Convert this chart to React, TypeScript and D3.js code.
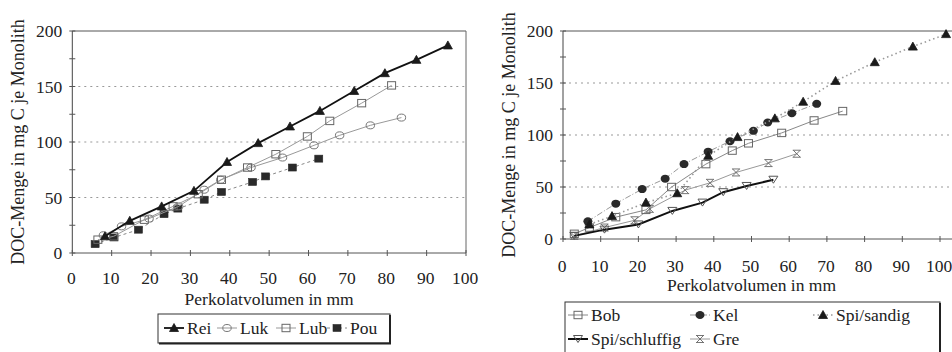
import React from "react";
import * as d3 from "d3";

// ---------- data ----------
const xTicks = [0, 10, 20, 30, 40, 50, 60, 70, 80, 90, 100];
const yTicks = [0, 50, 100, 150, 200];
const yMinorTicks = [25, 75, 125, 175];
const xLabel = "Perkolatvolumen in mm";
const yLabel = "DOC-Menge in mg C je Monolith";

// left panel
const rei: [number, number][] = [
  [8.3, 15], [14.6, 29], [22.7, 42], [30.9, 56], [39.3, 82], [47.2, 99],
  [55.3, 114], [62.9, 128], [71.6, 146], [79.4, 162], [87.4, 174], [95.4, 187],
];
const luk: [number, number][] = [
  [7.9, 16], [12.5, 24], [19.5, 31], [27, 42], [33.5, 57], [37.7, 66],
  [45.4, 77], [53.4, 86], [61.4, 97], [67.9, 106], [75.7, 115], [83.6, 122],
];
const lub: [number, number][] = [
  [6.5, 12], [10.5, 15], [18.3, 30], [25.6, 42], [32, 53], [37.9, 66],
  [44.5, 77], [51.7, 89], [59.7, 105], [65.4, 119], [73.5, 135], [81.1, 151],
];
const pou: [number, number][] = [
  [5.8, 8], [10.6, 14], [16.8, 21], [23.3, 35], [26.8, 40], [33.5, 48],
  [37.9, 55], [45.8, 64], [49.1, 69], [55.9, 77], [62.6, 85],
];

// right panel
const bob: [number, number][] = [
  [3, 5], [7, 11], [14, 21], [22, 28], [28.8, 50], [37.9, 72], [44.9, 85],
  [49.2, 92], [58, 102], [66.6, 114], [74.2, 123],
];
const kel: [number, number][] = [
  [6.6, 17], [14, 34], [21, 48], [27.1, 58], [32.1, 72], [38.5, 84],
  [44.3, 94], [50.5, 104], [54.3, 112], [60.7, 121], [67.3, 130],
];
const spiSandig: [number, number][] = [
  [7, 14], [13, 22], [22, 35], [30.3, 44], [38.5, 80], [46.3, 98],
  [56.2, 116], [63.7, 132], [72.3, 152], [82.7, 170], [92.8, 185], [101.6, 197],
];
const spiSchluffig: [number, number][] = [
  [3, 3], [11, 9], [20, 14], [29, 27], [37, 35], [42.5, 45], [48.7, 51], [55.8, 57],
];
const gre: [number, number][] = [
  [3, 3], [11, 11], [19, 18], [23, 29], [32.4, 47], [39, 54], [45.9, 64],
  [54.5, 73], [62, 82],
];

const FONT = "Liberation Serif, DejaVu Serif, Times New Roman, serif";
const textStyle: React.CSSProperties = { fontFamily: FONT, fontSize: "17.5px" };

type MarkerType =
  | "triUp"
  | "circleOpen"
  | "squareOpen"
  | "squareFilled"
  | "circleFilled"
  | "triDownOpen"
  | "gre";

function Marker({ type, x, y }: { type: MarkerType; x: number; y: number }) {
  switch (type) {
    case "triUp":
      return <path d={`M${x},${y - 4.5}L${x + 4.5},${y + 3.5}L${x - 4.5},${y + 3.5}Z`} fill="#1a1a1a" stroke="#1a1a1a" strokeWidth={0.8} />;
    case "circleOpen":
      return <ellipse cx={x} cy={y} rx={4.2} ry={3.5} fill="none" stroke="#777" strokeWidth={1} />;
    case "squareOpen":
      return <rect x={x - 4} y={y - 3.7} width={8} height={7.4} fill="none" stroke="#666" strokeWidth={1} />;
    case "squareFilled":
      return <rect x={x - 4} y={y - 3.5} width={8} height={7} fill="#2a2a2a" stroke="#2a2a2a" strokeWidth={0.6} />;
    case "circleFilled":
      return <ellipse cx={x} cy={y} rx={4.5} ry={4} fill="#2a2a2a" />;
    case "triDownOpen":
      return <path d={`M${x - 4.5},${y - 3.5}L${x + 4.5},${y - 3.5}L${x},${y + 3.5}Z`} fill="none" stroke="#555" strokeWidth={1} />;
    case "gre":
      return (
        <path
          d={`M${x - 3.5},${y - 3.5}L${x + 3.5},${y + 3.5}M${x + 3.5},${y - 3.5}L${x - 3.5},${y + 3.5}M${x - 4},${y - 3.5}L${x + 4},${y - 3.5}M${x - 4},${y + 3.5}L${x + 4},${y + 3.5}`}
          fill="none"
          stroke="#666"
          strokeWidth={0.9}
        />
      );
  }
  return null;
}

type Series = {
  name: string;
  data: [number, number][];
  stroke: string;
  width: number;
  dash?: string;
  marker: MarkerType;
};

const leftSeries: Series[] = [
  { name: "Pou", data: pou, stroke: "#888", width: 1, dash: "3,3", marker: "squareFilled" },
  { name: "Luk", data: luk, stroke: "#999", width: 1, marker: "circleOpen" },
  { name: "Lub", data: lub, stroke: "#999", width: 1, marker: "squareOpen" },
  { name: "Rei", data: rei, stroke: "#111", width: 1.8, marker: "triUp" },
];

const rightSeries: Series[] = [
  { name: "Gre", data: gre, stroke: "#999", width: 1, marker: "gre" },
  { name: "Bob", data: bob, stroke: "#888", width: 1, marker: "squareOpen" },
  { name: "Kel", data: kel, stroke: "#999", width: 1, dash: "6,2,1,2", marker: "circleFilled" },
  { name: "Spi/sandig", data: spiSandig, stroke: "#999", width: 1.6, dash: "1.5,3", marker: "triUp" },
  { name: "Spi/schluffig", data: spiSchluffig, stroke: "#111", width: 2, marker: "triDownOpen" },
];

function Panel({
  xRange,
  xDomainMax,
  yRange,
  series,
  yLabelX,
  tickLabelY,
  titleY,
  drawRightBorder,
}: {
  xRange: [number, number];
  xDomainMax: number;
  yRange: [number, number];
  series: Series[];
  yLabelX: number;
  tickLabelY: number;
  titleY: number;
  drawRightBorder: boolean;
}) {
  const x = d3.scaleLinear().domain([0, xDomainMax]).range(xRange);
  const y = d3.scaleLinear().domain([0, 200]).range(yRange);
  const line = d3
    .line<[number, number]>()
    .x((d) => x(d[0]))
    .y((d) => y(d[1]));
  const left = xRange[0];
  const right = xRange[1];
  const midX = (x(0) + x(100)) / 2;
  const midY = (yRange[0] + yRange[1]) / 2;
  return (
    <g>
      {/* grid */}
      {[50, 100, 150].map((t) => (
        <line key={t} x1={left} x2={right} y1={y(t)} y2={y(t)} stroke="#999" strokeWidth={1} strokeDasharray="2,4" />
      ))}
      {/* frame */}
      <line x1={left} x2={right} y1={y(200)} y2={y(200)} stroke="#555" strokeWidth={1} />
      {drawRightBorder && <line x1={right} x2={right} y1={y(200)} y2={y(0)} stroke="#666" strokeWidth={1} />}
      <line x1={left} x2={left} y1={y(0)} y2={y(200)} stroke="#444" strokeWidth={1} />
      <line x1={left} x2={right} y1={y(0)} y2={y(0)} stroke="#555" strokeWidth={1} />
      {/* y ticks */}
      {yTicks.concat(yMinorTicks).map((t) => (
        <line key={"yt" + t} x1={left - 3} x2={left + 3} y1={y(t)} y2={y(t)} stroke="#555" strokeWidth={1} />
      ))}
      {yTicks.map((t) => (
        <text key={"yl" + t} x={left - 10} y={y(t)} textAnchor="end" dominantBaseline="central" style={textStyle} fill="#222">
          {t}
        </text>
      ))}
      {/* x ticks */}
      {xTicks.map((t) => (
        <g key={"xt" + t}>
          <line x1={x(t)} x2={x(t)} y1={y(0) - 3} y2={y(0) + 3} stroke="#555" strokeWidth={1} />
          <text x={x(t) - 1} y={tickLabelY} textAnchor="middle" dominantBaseline="central" style={textStyle} fill="#222">
            {t}
          </text>
        </g>
      ))}
      <text x={midX} y={titleY} textAnchor="middle" dominantBaseline="central" style={textStyle} fill="#222">
        {xLabel}
      </text>
      <text
        transform={`translate(${yLabelX},${midY}) rotate(-90)`}
        textAnchor="middle"
        dominantBaseline="central"
        style={{ ...textStyle, fontSize: "18px" }}
        fill="#222"
      >
        {yLabel}
      </text>
      {/* series */}
      {series.map((s) => (
        <g key={s.name}>
          <path d={line(s.data) || ""} fill="none" stroke={s.stroke} strokeWidth={s.width} strokeDasharray={s.dash} />
          {s.data.map((d, i) => (
            <Marker key={i} type={s.marker} x={x(d[0])} y={y(d[1])} />
          ))}
        </g>
      ))}
    </g>
  );
}

function LegendItem({ s, x, y }: { s: Series; x: number; y: number }) {
  return (
    <g>
      <line x1={x} x2={x + 20} y1={y} y2={y} stroke={s.stroke} strokeWidth={s.width} strokeDasharray={s.dash} />
      <Marker type={s.marker} x={x + 10} y={y} />
      <text x={x + 23} y={y} dominantBaseline="central" style={textStyle} fill="#222">
        {s.name}
      </text>
    </g>
  );
}

export default function App() {
  const byName = (arr: Series[], n: string) => arr.find((s) => s.name === n)!;
  return (
    <svg width={952} height={352} style={{ position: "absolute", left: 0, top: 0, background: "#fff" }}>
      <rect x={0} y={0} width={952} height={352} fill="#fff" />
      <Panel
        xRange={[72.3, 466]}
        xDomainMax={100}
        yRange={[253, 31]}
        series={leftSeries}
        yLabelX={18}
        tickLabelY={278}
        titleY={299}
        drawRightBorder={true}
      />
      <Panel
        xRange={[563, 563 + 3.77 * 110]}
        xDomainMax={110}
        yRange={[239, 31]}
        series={rightSeries}
        yLabelX={509}
        tickLabelY={266}
        titleY={285}
        drawRightBorder={false}
      />
      {/* left legend */}
      <rect x={158} y={314} width={232} height={29} fill="#fff" stroke="#333" strokeWidth={1} />
      <line x1={390} x2={390} y1={315} y2={344} stroke="#222" strokeWidth={2} />
      <line x1={159} x2={391} y1={343.5} y2={343.5} stroke="#222" strokeWidth={2} />
      <LegendItem s={byName(leftSeries, "Rei")} x={164} y={328} />
      <LegendItem s={byName(leftSeries, "Luk")} x={217} y={328} />
      <LegendItem s={byName(leftSeries, "Lub")} x={276} y={328} />
      <LegendItem s={byName(leftSeries, "Pou")} x={327} y={328} />
      {/* right legend */}
      <rect x={565} y={302} width={375} height={70} fill="#fff" stroke="#333" strokeWidth={1} />
      <line x1={940} x2={940} y1={303} y2={352} stroke="#222" strokeWidth={2} />
      <LegendItem s={byName(rightSeries, "Bob")} x={568} y={315} />
      <LegendItem s={byName(rightSeries, "Kel")} x={690} y={315} />
      <LegendItem s={byName(rightSeries, "Spi/sandig")} x={813} y={315} />
      <LegendItem s={byName(rightSeries, "Spi/schluffig")} x={568} y={339} />
      <LegendItem s={byName(rightSeries, "Gre")} x={690} y={339} />
    </svg>
  );
}
